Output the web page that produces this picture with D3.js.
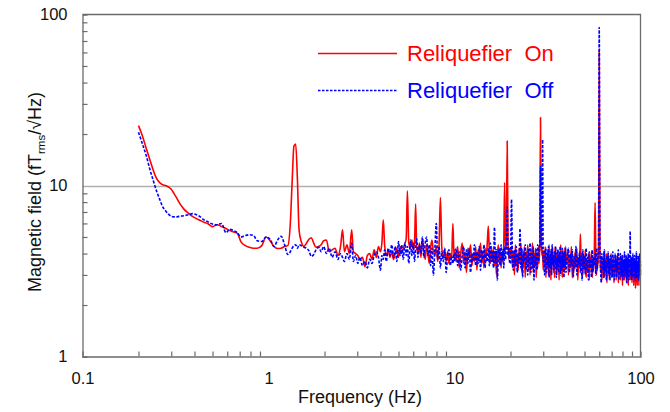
<!DOCTYPE html>
<html><head><meta charset="utf-8">
<script src="https://cdn.jsdelivr.net/npm/d3@7/dist/d3.min.js"></script>
<style>
html,body{margin:0;padding:0;background:#fff;}
svg{display:block;font-family:"Liberation Sans",Arial,sans-serif;}
</style></head>
<body><svg id="chart" width="670" height="412"></svg>
<script>
// ---------- DATA ----------
const seriesNames = ["Reliquefier\u00A0 On", "Reliquefier\u00A0 Off"];
const xTickLabels = [0.1, 1, 10, 100];
const yTickLabels = [1, 10, 100];
const xMinorTicks = [0.2,0.3,0.4,0.5,0.6,0.7,0.8,0.9,2,3,4,5,6,7,8,9,20,30,40,50,60,70,80,90];
const yMinorTicks = [2,3,4,5,6,7,8,9,20,30,40,50,60,70,80,90];
const gridValues = [10];

// 0.2 - 2 Hz
const freqLow = [0.2,0.21,0.22,0.23,0.24,0.25,0.26,0.27,0.28,0.29,0.3,0.31,0.32,0.33,0.35,0.37,0.39,0.41,0.43,0.45,0.47,0.5,0.53,0.56,0.59,0.62,0.65,0.68,0.71,0.75,0.79,0.83,0.87,0.92,0.97,1.02,1.07,1.12,1.17,1.22,1.27,1.31,1.34,1.37,1.4,1.43,1.46,1.5,1.55,1.6,1.65,1.7,1.75,1.8,1.86,1.92,1.98];
const onLow = [22.4,19.5,16.5,14.2,12.3,11.0,10.4,10.1,10.0,9.8,9.5,9.0,8.5,8.0,7.3,6.9,6.6,6.4,6.25,6.1,6.0,5.75,5.9,5.75,5.6,5.45,5.35,5.25,4.7,4.45,4.35,4.3,4.3,4.45,5.0,4.75,4.4,4.28,4.3,4.4,4.45,6.0,10.5,17.0,17.5,11.0,5.5,4.7,4.4,4.6,4.85,4.95,4.6,4.35,4.4,4.5,4.75];
const offLow = [20.5,17.5,15.0,12.5,10.7,9.3,8.3,7.5,7.1,6.8,6.6,6.55,6.55,6.6,6.65,6.75,6.85,6.75,6.55,6.3,6.15,5.95,5.9,6.0,5.3,5.55,5.45,5.3,5.0,5.1,5.15,5.1,4.75,4.7,5.0,4.85,4.4,4.8,5.05,4.5,3.95,4.1,4.3,4.45,4.5,4.3,4.5,4.45,4.35,4.3,4.15,3.85,3.95,4.2,4.35,4.1,4.4];

// 2 - 10 Hz
const freqMid = [2.05,2.12,2.2,2.28,2.36,2.44,2.5,2.56,2.64,2.72,2.8,2.86,2.94,3.02,3.1,3.2,3.3,3.4,3.5,3.6,3.7,3.8,3.9,4.0,4.07,4.14,4.21,4.3,4.4,4.5,4.6,4.7,4.8,4.9,5.0,5.1,5.2,5.3,5.42,5.5,5.58,5.68,5.8,5.9,6.0,6.1,6.18,6.26,6.36,6.48,6.6,6.72,6.84,6.96,7.08,7.2,7.32,7.44,7.56,7.7,7.84,7.98,8.12,8.26,8.4,8.54,8.7,8.86,9.02,9.18,9.34,9.5,9.65,9.8,9.95];
const onMid = [4.8,4.1,4.2,4.3,3.9,4.4,5.5,4.1,4.5,4.0,5.5,4.1,4.0,3.9,3.7,3.8,3.35,3.9,4.0,3.7,4.2,3.8,4.4,4.1,4.6,6.3,4.5,3.9,4.2,3.8,4.1,3.7,4.0,4.3,3.8,4.4,4.0,4.3,4.6,4.9,9.3,4.6,4.3,4.8,4.2,4.7,7.8,4.4,4.0,4.6,3.8,4.9,4.2,3.7,4.5,4.0,3.5,4.3,4.8,4.1,3.9,4.4,3.6,4.5,8.5,4.4,3.8,4.2,3.6,4.1,3.5,4.0,3.7,6.0,3.8];
const offMid = [4.0,4.3,3.8,4.1,3.7,4.0,3.8,3.6,4.0,3.7,4.6,3.6,3.9,3.5,3.8,3.4,3.6,3.3,3.7,3.5,3.9,4.1,3.8,3.2,3.9,3.7,4.2,3.6,4.3,3.9,4.5,3.8,4.4,3.6,4.7,3.9,4.5,3.7,4.6,3.9,4.4,3.5,4.8,3.9,4.6,3.6,4.4,4.9,3.8,4.5,4.0,5.0,3.8,4.6,5.0,3.9,4.5,3.4,4.3,3.0,4.2,6.0,3.7,4.4,3.3,4.1,3.6,4.3,3.1,3.9,4.2,3.4,3.9,3.5,4.0];

// 10 - 20 Hz
const freq10 = [10,10.2,10.4,10.6,10.8,11,11.2,11.4,11.6,11.8,12,12.2,12.4,12.6,12.8,13,13.2,13.4,13.6,13.8,14,14.2,14.4,14.6,14.8,15,15.2,15.4,15.6,15.8,16,16.2,16.4,16.6,16.8,17,17.2,17.4,17.6,17.8,18,18.2,18.4,18.6,18.8,19,19.2,19.4,19.6,19.8];
const on10 = [4.2,3.6,4.4,3.3,4.0,4.6,3.5,4.1,3.1,4.3,3.8,4.5,3.4,4.0,3.6,4.4,3.2,4.2,3.7,4.6,3.5,4.0,3.3,4.3,3.8,4.6,5.8,4.0,3.5,4.4,3.6,4.2,3.4,4.1,3.0,3.9,4.5,3.5,4.2,3.3,4.0,3.6,4.4,10.4,4.2,4.6,18.2,4.8,3.7,4.3];
const off10 = [3.6,4.3,3.4,4.1,3.2,3.9,4.4,3.3,4.2,3.5,4.3,3.1,4.0,3.6,4.5,3.4,4.1,3.5,4.4,3.2,4.2,3.7,4.5,3.3,4.0,3.6,4.3,3.4,4.6,3.6,4.1,3.3,5.7,3.5,4.2,2.8,3.9,4.3,3.4,4.5,3.6,4.2,3.3,4.4,3.7,4.6,7.5,3.9,4.3,3.5];

// 20 - 40 Hz
const freq20 = [20,20.25,20.5,20.75,21,21.25,21.5,21.75,22,22.25,22.5,22.75,23,23.25,23.5,23.75,24,24.25,24.5,24.75,25,25.25,25.5,25.75,26,26.25,26.5,26.75,27,27.25,27.5,27.75,28,28.25,28.5,28.75,29,29.25,29.5,29.75,30,30.25,30.5,30.75,31,31.25,31.5,31.75,32,32.25,32.5,32.75,33,33.25,33.5,33.75,34,34.25,34.5,34.75,35,35.25,35.5,35.75,36,36.25,36.5,36.75,37,37.25,37.5,37.75,38,38.25,38.5,38.75,39,39.25,39.5,39.75];
const on20 = [3.9,4.4,3.3,4.1,3.0,4.5,3.5,4.0,3.2,4.3,3.6,4.6,3.1,3.9,3.4,4.4,2.9,4.1,3.5,4.5,3.2,3.8,3.0,4.2,3.6,4.6,3.1,4.0,3.4,4.3,2.9,3.9,3.3,4.4,3.5,4.7,25,4.8,3.9,4.2,3.2,4.0,3.4,4.4,2.9,3.8,3.3,4.2,3.0,4.5,3.4,3.9,2.8,4.1,3.5,4.3,3.1,3.8,2.9,4.4,3.3,4.0,3.0,4.2,3.4,3.9,2.8,4.1,3.2,4.5,3.5,3.8,2.9,4.2,3.3,4.0,3.1,4.3,3.4,3.9];
const off20 = [3.5,8.3,3.7,3.2,4.2,3.4,4.4,3.1,4.0,3.5,5.6,3.3,4.3,2.9,4.1,3.6,4.5,3.2,3.9,3.0,4.3,3.5,4.6,3.1,4.0,3.3,4.4,2.8,3.9,3.4,4.2,3.2,4.5,3.6,4.0,4.6,12.9,4.4,4.3,18.5,3.6,4.2,3.0,3.7,4.3,3.1,4.0,3.4,4.4,2.9,3.8,3.3,4.2,3.0,4.5,3.4,3.9,3.2,4.1,3.5,4.4,2.9,3.8,3.3,4.2,3.1,4.0,3.5,4.4,3.0,3.9,3.2,4.3,3.4,4.0,2.9,4.1,3.3,4.4,3.1];

// 40 - 100 Hz
const freq40 = [40,40.5,41,41.5,42,42.5,43,43.5,44,44.5,45,45.5,46,46.5,47,47.5,48,48.5,49,49.5,50,50.5,51,51.5,52,52.5,53,53.5,54,54.5,55,55.5,56,56.5,57,57.5,58,58.5,59,59.5,60,60.5,61,61.5,62,62.5,63,63.5,64,64.5,65,65.5,66,66.5,67,67.5,68,68.5,69,69.5,70,70.5,71,71.5,72,72.5,73,73.5,74,74.5,75,75.5,76,76.5,77,77.5,78,78.5,79,79.5,80,80.5,81,81.5,82,82.5,83,83.5,84,84.5,85,85.5,86,86.5,87,87.5,88,88.5,89,89.5,90,90.5,91,91.5,92,92.5,93,93.5,94,94.5,95,95.5,96,96.5,97,97.5,98,98.5,99,99.5,100];
const on40 = [3.6,4.2,3.0,3.9,3.3,4.4,2.9,3.7,3.2,4.1,3.4,4.3,2.8,3.8,3.3,5.2,3.5,4.0,3.0,3.9,3.2,4.2,2.9,3.6,3.1,4.0,2.8,3.8,3.3,4.1,2.9,3.7,3.2,4.3,7.95,3.9,3.0,3.7,3.4,4.2,61,4.3,3.1,3.8,2.8,3.6,3.2,4.1,2.9,3.7,3.3,4.0,2.7,3.5,3.1,3.9,2.8,3.6,3.2,4.0,2.9,3.5,3.0,3.8,2.7,3.4,3.1,3.9,2.8,3.6,3.2,4.0,2.7,3.4,3.0,3.7,2.8,3.5,3.1,3.9,2.6,3.4,3.0,3.7,2.8,3.6,3.1,3.9,2.7,3.4,3.0,3.8,2.6,3.5,3.1,3.7,2.8,3.4,3.0,3.8,2.7,3.5,2.9,3.6,2.6,3.3,3.0,3.7,2.5,3.4,2.9,3.6,2.6,3.3,3.0,3.8,2.6,3.4,2.9,3.5,3.0];
const off40 = [3.3,3.8,4.3,3.1,4.0,3.4,4.2,2.9,3.9,3.3,4.4,3.0,3.8,3.4,4.1,3.1,3.9,2.8,4.2,3.3,3.9,3.0,4.3,3.2,3.8,2.8,4.1,3.3,3.7,2.9,4.2,3.1,3.8,3.4,4.0,3.0,4.3,3.2,3.8,4.4,84,4.4,3.3,2.7,4.0,3.2,3.7,2.9,4.2,3.1,3.6,2.8,3.9,3.3,4.1,3.0,3.7,2.8,3.9,3.2,3.8,2.9,4.1,3.1,3.6,2.8,4.0,3.2,3.7,2.9,3.9,3.1,4.2,2.8,3.6,3.2,4.0,2.9,3.7,3.1,3.9,2.8,3.6,3.2,4.1,2.9,3.7,3.1,3.9,2.7,3.6,3.1,4.0,2.8,3.7,3.3,5.4,3.0,3.8,2.8,3.6,3.1,4.0,2.9,3.7,3.2,3.9,2.8,3.6,3.1,4.1,2.9,3.5,3.2,3.9,2.8,3.7,3.1,4.0,3.0,3.6];

// ---------- BUILD ----------
const freqs = [].concat(freqLow, freqMid, freq10, freq20, freq40);
const onVals = [].concat(onLow, onMid, on10, on20, on40);
const offVals = [].concat(offLow, offMid, off10, off20, off40);
const onData = freqs.map((f, i) => ({f, v: onVals[i]}));
const offData = freqs.map((f, i) => ({f, v: offVals[i]}));

const svg = d3.select("#chart");
const L = 82.5, R = 640.5, T = 14.5, B = 356.5;
const x = d3.scaleLog().domain([0.1, 100]).range([L, R]);
const y = d3.scaleLog().domain([1, 100]).range([B, T]);
const frameColor = "#6b6b6b";

// gridline at 10
svg.append("g").selectAll("line").data(gridValues).join("line")
  .attr("x1", L).attr("x2", R)
  .attr("y1", d => Math.round(y(d)) + 0.5).attr("y2", d => Math.round(y(d)) + 0.5)
  .attr("stroke", "#b0b0b0").attr("stroke-width", 1.4);

// series lines
const line = d3.line().x(d => x(d.f)).y(d => y(d.v)).curve(d3.curveMonotoneX);
svg.append("path").datum(onData).attr("d", line)
  .attr("fill", "none").attr("stroke", "#ff0000").attr("stroke-width", 1.6)
  .attr("stroke-linejoin", "round");
svg.append("path").datum(offData).attr("d", line)
  .attr("fill", "none").attr("stroke", "#0000ff").attr("stroke-width", 1.6)
  .attr("stroke-dasharray", "3,1.6").attr("stroke-linejoin", "round");

// frame top/right
svg.append("path")
  .attr("d", `M${L},${T}H${R}V${B}`)
  .attr("fill", "none").attr("stroke", frameColor).attr("stroke-width", 1.3);

// minor ticks (inward)
const yMinor = svg.append("g").attr("transform", `translate(${L},0)`)
  .call(d3.axisLeft(y).tickValues(yMinorTicks).tickSize(-5).tickFormat(""));
const xMinor = svg.append("g").attr("transform", `translate(0,${B})`)
  .call(d3.axisBottom(x).tickValues(xMinorTicks).tickSize(-5).tickFormat(""));
[yMinor, xMinor].forEach(g => {
  g.select(".domain").attr("stroke", frameColor).attr("stroke-width", 1.3);
  g.selectAll(".tick line").attr("stroke", frameColor).attr("stroke-width", 1.2);
});

// labels
const yLab = svg.append("g").attr("transform", `translate(${L},0)`)
  .call(d3.axisLeft(y).tickValues(yTickLabels).tickSize(0).tickPadding(15).tickFormat(d3.format("")));
const xLab = svg.append("g").attr("transform", `translate(0,${B})`)
  .call(d3.axisBottom(x).tickValues(xTickLabels).tickSize(0).tickPadding(16).tickFormat(d => String(d)));
[yLab, xLab].forEach(g => {
  g.select(".domain").remove();
  g.selectAll("text").attr("font-size", 16.5).attr("fill", "#111")
    .attr("font-family", '"Liberation Sans",Arial,sans-serif');
});

// axis titles
svg.append("text").attr("x", 360).attr("y", 403).attr("text-anchor", "middle")
  .attr("font-size", 18).attr("fill", "#111").text("Frequency (Hz)");
const yt = svg.append("text").attr("transform", "translate(41,192) rotate(-90)")
  .attr("text-anchor", "middle").attr("font-size", 18).attr("fill", "#111");
yt.append("tspan").text("Magnetic field (fT");
yt.append("tspan").attr("font-size", 11.5).attr("dy", 4).text("rms");
yt.append("tspan").attr("dy", -4).text("/\u221AHz)");

// legend
const legend = svg.append("g");
const legendRows = [
  {name: seriesNames[0], color: "#ff0000", dash: null, ly: 53.5, ty: 61},
  {name: seriesNames[1], color: "#0000ff", dash: "2.5,1.5", ly: 90.5, ty: 98}
];
legendRows.forEach(r => {
  legend.append("line").attr("x1", 318).attr("x2", 397).attr("y1", r.ly).attr("y2", r.ly)
    .attr("stroke", r.color).attr("stroke-width", 1.4)
    .attr("stroke-dasharray", r.dash);
  legend.append("text").attr("x", 407).attr("y", r.ty).attr("font-size", 22)
    .attr("fill", r.color).text(r.name);
});
</script></body></html>
